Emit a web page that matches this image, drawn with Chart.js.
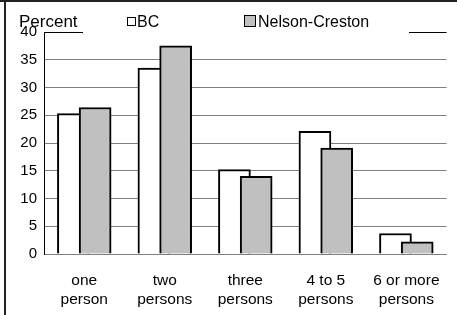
<!DOCTYPE html>
<html lang="en">

<head>
  <meta charset="UTF-8">
  <title>Household size</title>
  <script src="https://cdn.jsdelivr.net/npm/chart.js"></script>
  <style>
    body {
      margin: 0;
      background: #ffffff;
    }

    #sizeChart {
      display: block;
    }
  </style>
</head>

<body>
  <canvas id="sizeChart" width="457" height="315"></canvas>

  <script>
    // Data
    const categories = [['one', 'person'], ['two', 'persons'], ['three', 'persons'], ['4 to 5', 'persons'], ['6 or more', 'persons']];
    const seriesNames = ['BC', 'Nelson-Creston'];
    const bcValues = [25.3, 33.5, 15.2, 22.1, 3.7];
    const nelsonValues = [26.4, 37.5, 14.0, 19.1, 2.2];
    const yAxisTitle = 'Percent';
    const yMin = 0;
    const yMax = 40;
    const yStep = 5;

    const fontFamily = '"Liberation Sans", Arial, sans-serif';
    const barShift = 0.135; // the two bars overlap a bit, like in the original

    // Legend and frame drawn by hand (the legend sits on the top grid line)
    const legendPlugin = {
      id: 'legendPlugin',
      afterDraw(chart) {
        const c = chart.ctx;
        c.save();
        // frame
        c.fillStyle = '#222222';
        c.fillRect(0, 0, chart.width, 2);
        c.fillRect(4, 0, 2, chart.height);

        // white legend box hiding the grid line
        c.fillStyle = '#ffffff';
        c.fillRect(83, 10, 326, 25);

        c.fillStyle = '#000000';
        c.textBaseline = 'alphabetic';
        c.font = '17px ' + fontFamily;
        c.fillText(yAxisTitle, 19, 27);

        c.font = '16px ' + fontFamily;
        // BC key
        c.fillStyle = '#ffffff';
        c.fillRect(127.5, 17.5, 8, 8);
        c.strokeStyle = '#000000';
        c.lineWidth = 1;
        c.strokeRect(127.5, 17.5, 8, 8);
        c.fillStyle = '#000000';
        c.fillText(seriesNames[0], 137, 26.5);
        // Nelson-Creston key
        c.fillStyle = '#c0c0c0';
        c.fillRect(244.5, 15.5, 11, 11);
        c.strokeRect(244.5, 15.5, 11, 11);
        c.fillStyle = '#000000';
        c.fillText(seriesNames[1], 258, 26.5);
        c.restore();
      }
    };

    const ctx = document.getElementById('sizeChart').getContext('2d');
    const sizeChart = new Chart(ctx, {
      type: 'bar',
      data: {
        datasets: [{
          label: seriesNames[0],
          data: bcValues.map((v, i) => ({ x: i - barShift, y: v })),
          backgroundColor: '#ffffff',
          borderColor: '#000000',
          borderWidth: 2,
          order: 1
        }, {
          label: seriesNames[1],
          data: nelsonValues.map((v, i) => ({ x: i + barShift, y: v })),
          backgroundColor: '#c0c0c0',
          borderColor: '#000000',
          borderWidth: 2,
          order: 0
        }]
      },
      options: {
        responsive: false,
        animation: false,
        devicePixelRatio: 1,
        grouped: false,
        barThickness: 32,
        layout: {
          padding: { top: 32, right: 5, left: 0, bottom: 0 }
        },
        scales: {
          x: {
            type: 'linear',
            min: -0.5,
            max: 4.5,
            offset: false,
            afterBuildTicks: (axis) => {
              axis.ticks = categories.map((c, i) => ({ value: i }));
            },
            afterFit: (scale) => {
              scale.height = 61;
            },
            grid: {
              display: false,
              drawTicks: false,
              offset: false
            },
            border: {
              display: true,
              color: '#808080',
              width: 1
            },
            ticks: {
              autoSkip: false,
              maxRotation: 0,
              padding: 17,
              color: '#000000',
              font: { family: fontFamily, size: 15.5, lineHeight: 1.23 },
              callback: (value) => categories[Math.round(value)]
            }
          },
          y: {
            min: yMin,
            max: yMax,
            afterFit: (scale) => {
              scale.width = 44;
            },
            grid: {
              drawTicks: false,
              color: (c) => (c.tick && c.tick.value === yMax ? '#000000' : '#808080'),
              lineWidth: 1
            },
            border: {
              display: true,
              color: '#000000',
              width: 1
            },
            ticks: {
              stepSize: yStep,
              padding: 7,
              color: '#000000',
              font: { family: fontFamily, size: 15 }
            }
          }
        },
        plugins: {
          legend: { display: false },
          tooltip: { enabled: false }
        }
      },
      plugins: [legendPlugin]
    });
  </script>
</body>

</html>
